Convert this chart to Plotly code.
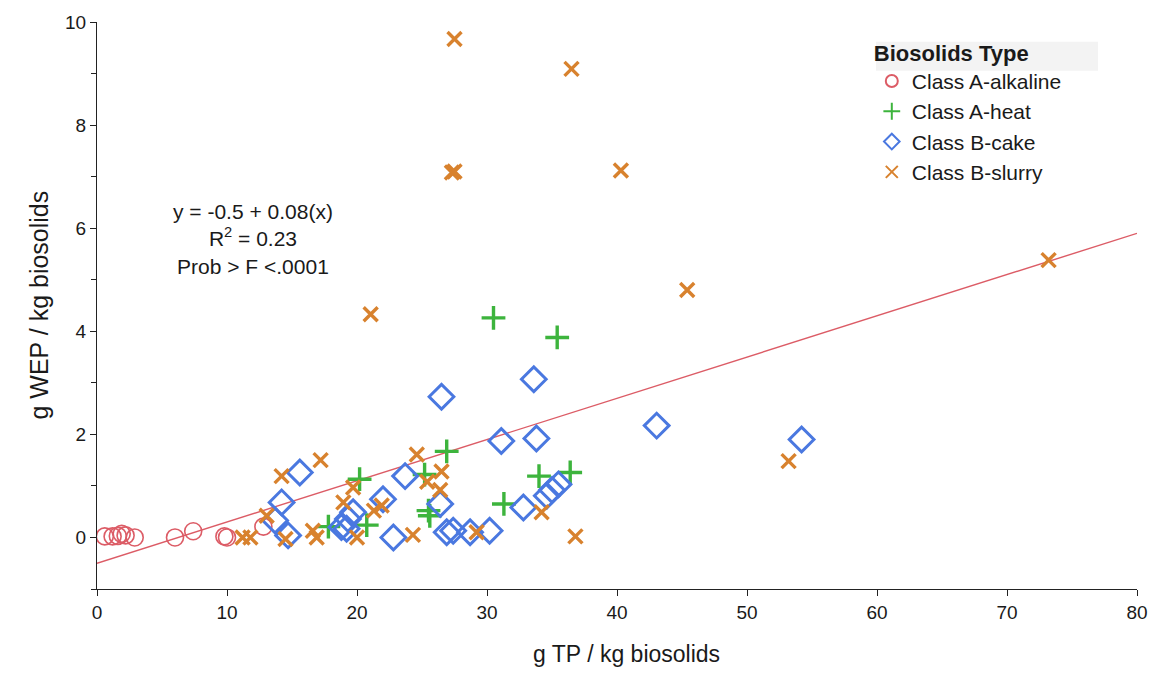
import plotly.graph_objects as go

# Water-extractable P vs total P, grouped by biosolids type
alkaline_tp = [0.6, 1.2, 1.6, 1.9, 2.2, 2.9, 6.0, 7.4, 9.8, 10.0, 12.8]
alkaline_wep = [0.02, 0.02, 0.03, 0.07, 0.04, 0.0, 0.0, 0.12, 0.02, 0.0, 0.21]

heat_tp = [17.8, 20.2, 20.75, 25.2, 25.5, 25.6, 26.9, 30.5, 31.3, 34.0, 35.4, 36.4]
heat_wep = [0.21, 1.13, 0.24, 1.22, 0.52, 0.42, 1.67, 4.26, 0.65, 1.19, 3.88, 1.26]

cake_tp = [13.7, 14.2, 14.7, 15.6, 18.8, 19.2, 19.3, 19.7, 22.0, 22.8, 23.7, 26.4, 26.5,
           26.9, 27.4, 28.7, 30.2, 31.1, 32.8, 33.6, 33.8, 34.6, 35.0, 35.5, 43.05, 54.2]
cake_wep = [0.33, 0.68, 0.04, 1.26, 0.2, 0.17, 0.36, 0.49, 0.74, 0.0, 1.19, 0.65, 2.73,
            0.1, 0.13, 0.1, 0.13, 1.87, 0.58, 3.07, 1.92, 0.81, 0.92, 1.03, 2.17, 1.9]

slurry_tp = [11.2, 11.8, 13.05, 14.2, 14.5, 16.6, 16.9, 17.2, 18.95, 19.7, 20.0, 21.05,
             21.3, 21.9, 24.3, 24.6, 25.4, 26.4, 26.5, 27.3, 27.5, 27.5, 29.2, 34.2,
             36.5, 36.8, 40.3, 45.4, 53.2, 73.2]
slurry_wep = [0.0, 0.0, 0.42, 1.19, -0.03, 0.13, 0.0, 1.5, 0.68, 0.97, 0.0, 4.33,
              0.52, 0.62, 0.05, 1.61, 1.08, 0.92, 1.28, 7.08, 7.1, 9.67, 0.1, 0.49,
              9.09, 0.02, 7.12, 4.8, 1.48, 5.38]

fit_intercept = -0.5
fit_slope = 0.08
fit_x = [0, 80]

RED = "#DC5C66"
GREEN = "#3DB43D"
BLUE = "#4A78E0"
ORANGE = "#D8822E"
TEXT = "#1a1a1a"
FONT = "Liberation Sans, Arial, sans-serif"

fig = go.Figure()

fig.add_trace(go.Scatter(
    x=fit_x, y=[fit_intercept + fit_slope * v for v in fit_x],
    mode="lines", line=dict(color=RED, width=1.4), showlegend=False, hoverinfo="skip"))

fig.add_trace(go.Scatter(
    x=alkaline_tp, y=alkaline_wep, mode="markers", name="Class A-alkaline",
    legendgroup="a",
    marker=dict(symbol="circle-open", size=17, color=RED, line=dict(width=1.6, color=RED))))
fig.add_trace(go.Scatter(
    x=heat_tp, y=heat_wep, mode="markers", name="Class A-heat", legendgroup="b",
    marker=dict(symbol="cross-thin-open", size=17, color=GREEN, line=dict(width=3.4, color=GREEN))))
fig.add_trace(go.Scatter(
    x=cake_tp, y=cake_wep, mode="markers", name="Class B-cake", legendgroup="c",
    marker=dict(symbol="diamond-open", size=19, color=BLUE, line=dict(width=3, color=BLUE))))
fig.add_trace(go.Scatter(
    x=slurry_tp, y=slurry_wep, mode="markers", name="Class B-slurry", legendgroup="d",
    marker=dict(symbol="x-thin-open", size=14, color=ORANGE, line=dict(width=3.4, color=ORANGE))))

axis_common = dict(
    showgrid=False, zeroline=False, showline=True, linecolor="#222", linewidth=1.2,
    ticks="outside", ticklen=6, tickwidth=1.2, tickcolor="#222",
    tickfont=dict(size=19, color=TEXT, family=FONT),
)

fig.update_xaxes(range=[0, 80], dtick=10, tick0=0, **axis_common)
fig.update_yaxes(range=[-1, 10], dtick=2, tick0=0,
                 minor=dict(dtick=1, ticks="outside", ticklen=5, tickcolor="#222", tickwidth=1.2),
                 **axis_common)

# axis titles
fig.add_annotation(
    x=0.5087, y=-0.1154, xref="paper", yref="paper", xanchor="center", yanchor="middle",
    text="g TP / kg biosolids", showarrow=False,
    font=dict(size=23, color=TEXT, family=FONT))
fig.add_annotation(
    x=-0.0567, y=0.5, xref="paper", yref="paper", xanchor="center", yanchor="middle",
    text="g WEP / kg biosolids", showarrow=False, textangle=-90,
    font=dict(size=25, color=TEXT, family=FONT))

# regression summary
fig.add_annotation(
    x=0.150, y=0.689, xref="paper", yref="paper", xanchor="center", yanchor="top",
    text="y = -0.5 + 0.08(x)<br>R<sup>2</sup> = 0.23<br>Prob > F <.0001",
    showarrow=False, align="center", font=dict(size=21, color=TEXT, family=FONT))

# shaded band behind the legend title
fig.add_shape(type="rect", xref="paper", yref="paper",
              x0=0.749, x1=0.9625, y0=0.914, y1=0.965,
              fillcolor="#f3f3f3", line=dict(width=0), layer="below")

fig.update_layout(
    width=1160, height=673,
    margin=dict(l=97, r=23, t=17, b=84),
    paper_bgcolor="white", plot_bgcolor="white",
    font=dict(family=FONT, color=TEXT),
    legend=dict(
        x=0.745, y=0.982, xanchor="left", yanchor="top",
        bgcolor="rgba(0,0,0,0)",
        title=dict(text="<b>Biosolids Type</b>", font=dict(size=22, color=TEXT, family=FONT)),
        font=dict(size=21, color=TEXT, family=FONT),
        traceorder="grouped", tracegroupgap=0, itemsizing="constant",
    ),
)

fig.write_html("out.html")
